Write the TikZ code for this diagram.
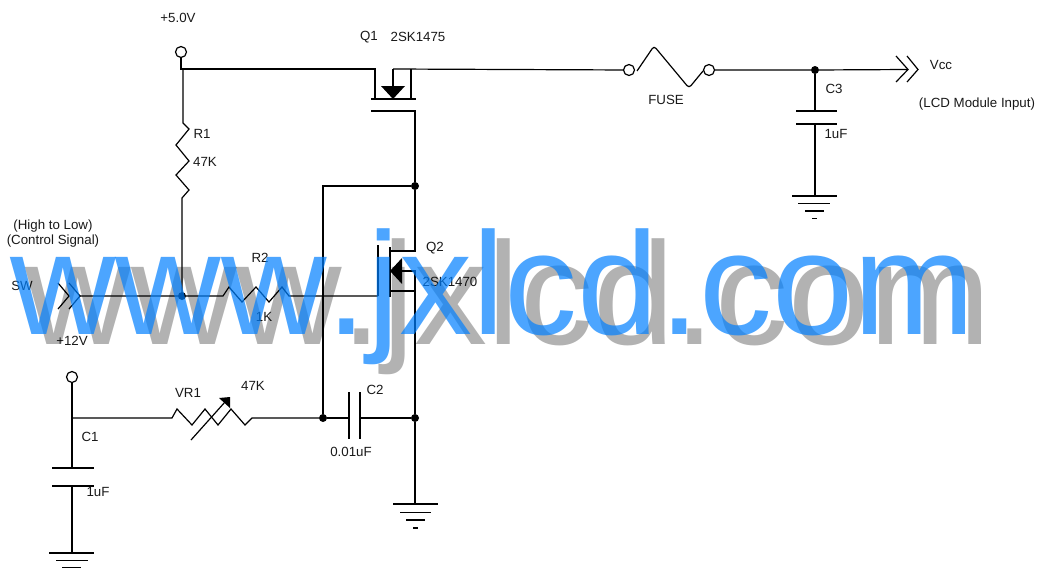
\documentclass[tikz,border=0pt]{standalone}
\usepackage{fontspec}
\setmainfont{Liberation Sans}
\newfontfamily\wmfont[Kerning=Off]{Liberation Sans}
\begin{document}
\begin{tikzpicture}[x=1pt,y=-1pt,
  wire/.style={line width=1.2pt,line join=miter},
  dotnode/.style={circle,fill=black,inner sep=0pt,minimum size=8pt},
  term/.style={circle,draw,line width=1.2pt,fill=white,inner sep=0pt,minimum size=11pt},
  lbl/.style={font=\fontsize{13.3}{13.3}\selectfont,text=black!90,inner sep=0pt,yshift=-0.8pt},
  wm/.style={font=\wmfont\fontsize{146}{146}\selectfont,inner sep=0pt,anchor=base west}]
\useasboundingbox (0,0) rectangle (1038,573);
\fill[white] (0,0) rectangle (1038,573);
% junctions and terminals
\node[term] (t5) at (181,52) {};
\node[term] (t12) at (72,377) {};
\node[term] (fa) at (629,70) {};
\node[term] (fb) at (709,70) {};
\node[dotnode] (jvcc) at (815,70) {};
\node[dotnode] (jd) at (415,186) {};
\node[dotnode] (jsw) at (182,296) {};
\node[dotnode] (jl) at (323,418) {};
\node[dotnode] (jr) at (415,418) {};
% named points
\coordinate (r1t) at (183,123);
\coordinate (r1b) at (182,198);
\coordinate (r1in) at (183,69);
\coordinate (q1g) at (375,69);
\coordinate (q1m) at (393,69);
\coordinate (q1s) at (411,69);
\coordinate (swtip) at (80,296);
\coordinate (r2a) at (223,296);
\coordinate (r2b) at (289,296);
\coordinate (q2g) at (378,296);
\coordinate (vccend) at (908,69.5);
\coordinate (c1j) at (72,418);
\coordinate (vra) at (172,418);
\coordinate (vrb) at (252,418);
\coordinate (c2l) at (349,418);
\coordinate (c2r) at (360,418);
\coordinate (g2) at (415,504);
\coordinate (g3) at (815,196);
\coordinate (g1) at (72,553);
% top rail
\draw[wire] (t5) |- (r1in) -- (q1g) -- (375,99);
\draw[wire] (r1in) -- (r1t) -- (189,129) -- (176,145) -- (189,161) -- (176,175) -- (189,190) -- (r1b) -- (jsw);
% Q1
\draw[wire] (371,99) -- (416,99);
\draw[wire] (q1m) -- (393,99);
\draw[wire] (q1m) -- (fa);
\draw[wire] (q1s) -- (411,99);
\fill (381,86) -- (405,86) -- (393,99) -- cycle;
\draw[wire] (371,111) -- (415,111) -- (jd);
% fuse
\draw[wire,rounded corners=3pt] (637,71) -- (654,46) -- (689,88) -- (703,71);
\draw[wire] (fb) -- (jvcc) -- (vccend);
\draw[wire] (896,56) -- (908,69.5) -- (896,82);
\draw[wire] (907,56) -- (918,69.5) -- (907,82);
% C3 and ground
\draw[wire] (jvcc) -- (815,111);
\draw[wire] (796,111) -- (837,111);
\draw[wire] (796,124) -- (837,124);
\draw[wire] (815,124) -- (g3);
\draw[wire] (792,196) -- (837,196) (798,203.5) -- (830,203.5) (805,211) -- (824,211) (812,218.5) -- (817,218.5);
% Q2
\draw[wire] (jd) -- (415,251) -- (390,251);
\draw[wire] (jd) -| (jl);
\draw[wire] (390,247) -- (390,297);
\draw[wire] (378,245) -- (378,296);
\draw[wire] (390,271) -- (415,271) -- (jr);
\draw[wire] (390,291) -- (415,291);
\fill (402,258) -- (402,284) -- (390,271) -- cycle;
% SW line and R2
\draw[wire] (58,283) -- (69,296) -- (58,309);
\draw[wire] (69,283) -- (swtip) -- (69,309);
\draw[wire] (swtip) -- (jsw) -- (r2a) -- (229,287) -- (242,302) -- (256,287) -- (269,302) -- (282,287) -- (r2b) -- (q2g);
% C1 and VR1
\draw[wire] (t12) -- (c1j) -- (72,468);
\draw[wire] (52,468) -- (94,468);
\draw[wire] (52,486) -- (94,486);
\draw[wire] (72,486) -- (g1);
\draw[wire] (49,553) -- (94,553) (56,560.5) -- (88,560.5) (62,567.5) -- (81,567.5);
\draw[wire] (c1j) -- (vra) -- (177,409) -- (192,425) -- (205,409) -- (218,425) -- (231,409) -- (245,425) -- (vrb) -- (jl);
\draw[wire] (191,440) -- (225,402);
\fill (230,397) -- (219,398) -- (230,408) -- cycle;
% C2
\draw[wire] (jl) -- (c2l);
\draw[wire] (349,392) -- (349,439);
\draw[wire] (360,392) -- (360,439);
\draw[wire] (c2r) -- (jr) -- (g2);
\draw[wire] (393,504) -- (438,504) (400,512.5) -- (431,512.5) (406,520) -- (425,520) (413,528) -- (418,528);
% labels
\node[lbl] (l5v) at (178,17) {+5.0V};
\node[lbl] (lq1) at (369,36) {Q1};
\node[lbl] (lq1t) at (418,36) {2SK1475};
\node[lbl] (lfuse) at (666,99.5) {FUSE};
\node[lbl] (lvcc) at (941,64) {Vcc};
\node[lbl] (lc3) at (834,88) {C3};
\node[lbl] (llcd) at (977,103) {(LCD Module Input)};
\node[lbl] (lc3v) at (836,133) {1uF};
\node[lbl] (lr1) at (202,133) {R1};
\node[lbl] (lr1v) at (205,161) {47K};
\node[lbl] (lhigh) at (53,225) {(High to Low)};
\node[lbl] (lctl) at (53,240) {(Control Signal)};
\node[lbl] (lsw) at (22,285) {SW};
\node[lbl] (l12) at (72,340) {+12V};
\node[lbl] (lr2) at (260,257) {R2};
\node[lbl] (lr2v) at (264,316) {1K};
\node[lbl] (lq2) at (435,247) {Q2};
\node[lbl] (lq2t) at (450,281) {2SK1470};
\node[lbl] (lvr) at (188,392) {VR1};
\node[lbl] (lvrv) at (253,385) {47K};
\node[lbl] (lc2) at (375,389) {C2};
\node[lbl] (lc2v) at (351,451) {0.01uF};
\node[lbl] (lc1) at (90,436) {C1};
\node[lbl] (lc1v) at (98,491) {1uF};
% watermark
\node[wm,text=black,text opacity=.3] (wmgray) at (25.5,344) {www.jxlcd.com};
\node[wm,text={rgb,255:red,0;green,128;blue,255},text opacity=.7] (wmblue) at (10,334) {www.jxlcd.com};
\end{tikzpicture}
\end{document}
